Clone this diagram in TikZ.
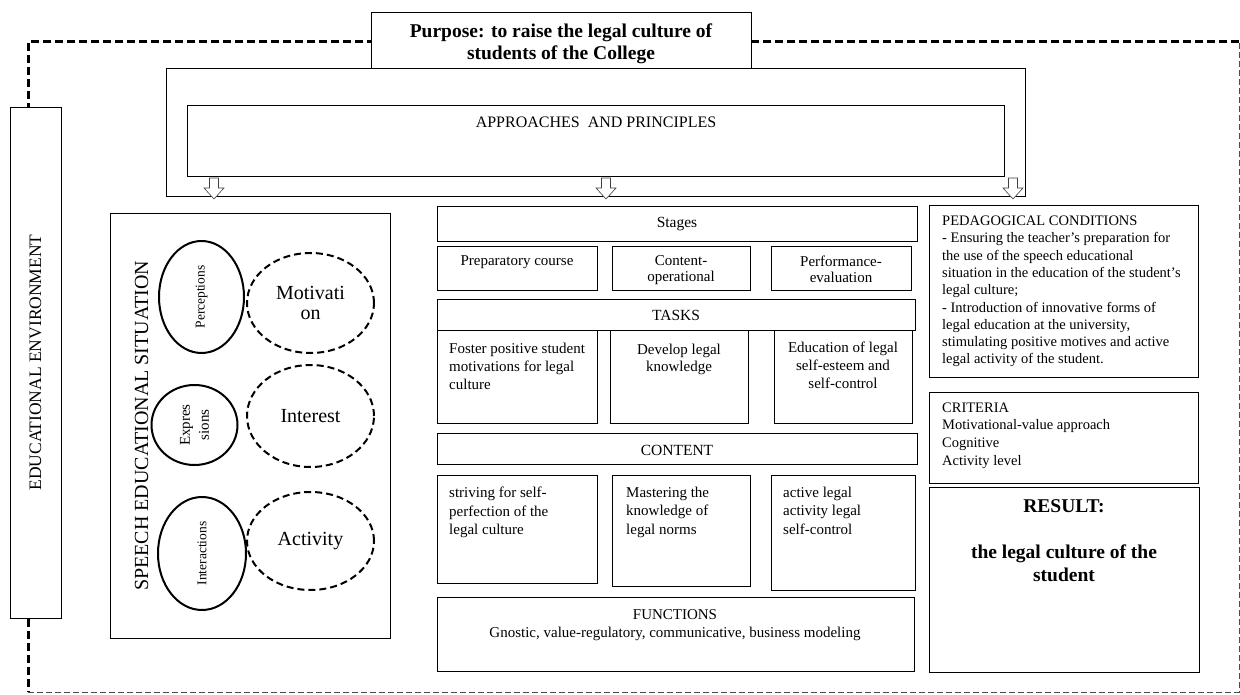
\documentclass[tikz,border=0pt]{standalone}
\usepackage{fontspec}
\setmainfont{Liberation Serif}
\usetikzlibrary{shapes.geometric}

\begin{document}
\begin{tikzpicture}[x=1pt,y=-1pt]
\tikzstyle{every node}=[inner sep=0pt]
\tikzstyle{box}=[draw,line width=0.9pt,fill=white,anchor=north west]
\tikzstyle{oval}=[draw,ellipse,line width=2pt,fill=white,rotate=90]
\tikzstyle{doval}=[draw,ellipse,line width=2pt,fill=white,dash pattern=on 7pt off 4pt,font=\fontsize{20}{20}\selectfont,align=center]
\tikzstyle{lbl}=[anchor=base,font=\fontsize{15.5}{18}\selectfont]
\tikzstyle{txt}=[anchor=north west,align=left,font=\fontsize{15}{18.3}\selectfont]
\tikzstyle{ctr}=[anchor=north,align=center,font=\fontsize{15}{16}\selectfont]
\tikzstyle{side}=[anchor=north west,align=left,font=\fontsize{14.5}{17.3}\selectfont]
\useasboundingbox (0,0) rectangle (1240,695);
% environment frame
\draw[line width=3pt,dash pattern=on 8pt off 4pt] (1239,42) -- (28,42) -- (28,692);
\draw[line width=0.8pt,draw=black!70,dash pattern=on 6pt off 3pt] (28,692) -- (1239,692) -- (1239,42);
% top
\node[box,minimum width=380pt,minimum height=56pt] (purpose) at (371,12) {};
\node[anchor=north,align=center,font=\fontsize{19.5}{21.7}\selectfont\bfseries] (purptxt) at (561,23.4) {Purpose: to raise the legal culture of\\students of the College};
\node[box,minimum width=859pt,minimum height=128pt] (appr) at (166,68) {};
\node[box,minimum width=817pt,minimum height=71pt] (princ) at (187,105) {};
\node[anchor=base,font=\fontsize{16}{18}\selectfont] (princtxt) at (596,127.7) {APPROACHES\ \ AND PRINCIPLES};
% left side
\node[draw,line width=0.9pt,fill=white,rotate=90,minimum width=511pt,minimum height=51pt,font=\fontsize{17.5}{20}\selectfont] (env) at (35.5,362.5) {EDUCATIONAL ENVIRONMENT};
\node[box,minimum width=280pt,minimum height=425pt] (speech) at (110,213) {};
\node[rotate=90,font=\fontsize{20}{22}\selectfont] (speechtxt) at (141.7,425.7) {SPEECH EDUCATIONAL SITUATION};
\node[oval,minimum width=112pt,minimum height=85pt,font=\fontsize{13.5}{15}\selectfont] (percep) at (201.5,297) {Perceptions};
\node[oval,minimum width=80pt,minimum height=86pt,align=center,font=\fontsize{15}{19}\selectfont] (express) at (194.5,425) {Expres\\sions};
\node[oval,minimum width=113pt,minimum height=88pt,font=\fontsize{13.5}{15}\selectfont] (interact) at (202,553.5) {Interactions};
\node[doval,minimum width=127pt,minimum height=100pt] (motiv) at (310.5,303) {Motivati\\on};
\node[doval,minimum width=127pt,minimum height=102pt] (interest) at (310.5,416) {Interest};
\node[doval,minimum width=127pt,minimum height=98pt] (activ) at (310.5,541) {Activity};
% stages and tasks
\node[box,minimum width=480pt,minimum height=35pt] (stages) at (437,206) {};
\node[lbl] (stagestxt) at (677,227.3) {Stages};
\node[box,minimum width=160pt,minimum height=44pt] (prep) at (437,246) {};
\node[anchor=base,font=\fontsize{15}{16}\selectfont] (preptxt) at (517,265.7) {Preparatory course};
\node[box,minimum width=138pt,minimum height=44pt] (contop) at (612,246) {};
\node[ctr] (contoptxt) at (681,255.5) {Content-\\operational};
\node[box,minimum width=140pt,minimum height=44pt] (perf) at (771,246) {};
\node[ctr] (perftxt) at (841,255.5) {Performance-\\evaluation};
\node[box,minimum width=478pt,minimum height=31pt] (tasks) at (437,299) {};
\node[lbl] (taskstxt) at (676,320) {TASKS};
\node[box,minimum width=160pt,minimum height=93pt] (foster) at (437,330) {};
\node[txt,font=\fontsize{15}{18}\selectfont] (fostertxt) at (449,342.5) {Foster positive student\\motivations for legal\\culture};
\node[box,minimum width=138pt,minimum height=93pt] (develop) at (610,330) {};
\node[ctr,font=\fontsize{15}{17.5}\selectfont] (developtxt) at (679,343.8) {Develop legal\\knowledge};
\node[box,minimum width=138pt,minimum height=93pt] (educ) at (774,330) {};
\node[ctr,font=\fontsize{15}{18}\selectfont] (eductxt) at (843,341.8) {Education of legal\\self-esteem and\\self-control};
% content and functions
\node[box,minimum width=480pt,minimum height=31pt] (content) at (437,433) {};
\node[lbl] (contenttxt) at (677,455) {CONTENT};
\node[box,minimum width=160pt,minimum height=108pt] (striving) at (437,475) {};
\node[txt] (strivingtxt) at (449,487) {striving for self-\\perfection of the\\legal culture};
\node[box,minimum width=138pt,minimum height=111pt] (master) at (612,475) {};
\node[txt] (mastertxt) at (626,487) {Mastering the\\knowledge of\\legal norms};
\node[box,minimum width=144pt,minimum height=115pt] (active) at (771,475) {};
\node[txt] (activetxt) at (783,487) {active legal\\activity legal\\self-control};
\node[box,minimum width=477pt,minimum height=74pt] (funct) at (437,597) {};
\node[ctr,font=\fontsize{15}{18}\selectfont] (functtxt) at (675,609.4) {FUNCTIONS\\Gnostic, value-regulatory, communicative, business modeling};
% right column
\node[box,minimum width=269pt,minimum height=172pt] (cond) at (929,205) {};
\node[side] (condtxt) at (942,215.7) {PEDAGOGICAL CONDITIONS\\- Ensuring the teacher's preparation for\\the use of the speech educational\\situation in the education of the student's\\legal culture;\\- Introduction of innovative forms of\\legal education at the university,\\stimulating positive motives and active\\legal activity of the student.};
\node[box,minimum width=269pt,minimum height=91pt] (crit) at (929,392) {};
\node[side,font=\fontsize{14.5}{17.6}\selectfont] (crittxt) at (942,402.4) {CRITERIA\\Motivational-value approach\\Cognitive\\Activity level};
\node[box,minimum width=270pt,minimum height=185pt] (result) at (929,487) {};
\node[anchor=base,font=\fontsize{19.5}{22}\selectfont\bfseries] (resulthead) at (1064,512.7) {RESULT:};
\node[anchor=north,align=center,font=\fontsize{19.5}{22.7}\selectfont\bfseries] (resulttxt) at (1064,544.7) {the legal culture of the\\student};
% hollow arrows
\foreach \x in {214,606,1013}
  \draw[fill=white,draw=black!75,line width=0.6pt] (\x-4.5,178) -- (\x+4.5,178) -- (\x+4.5,188) -- (\x+10,188) -- (\x,199) -- (\x-10,188) -- (\x-4.5,188) -- cycle;
\end{tikzpicture}
\end{document}
